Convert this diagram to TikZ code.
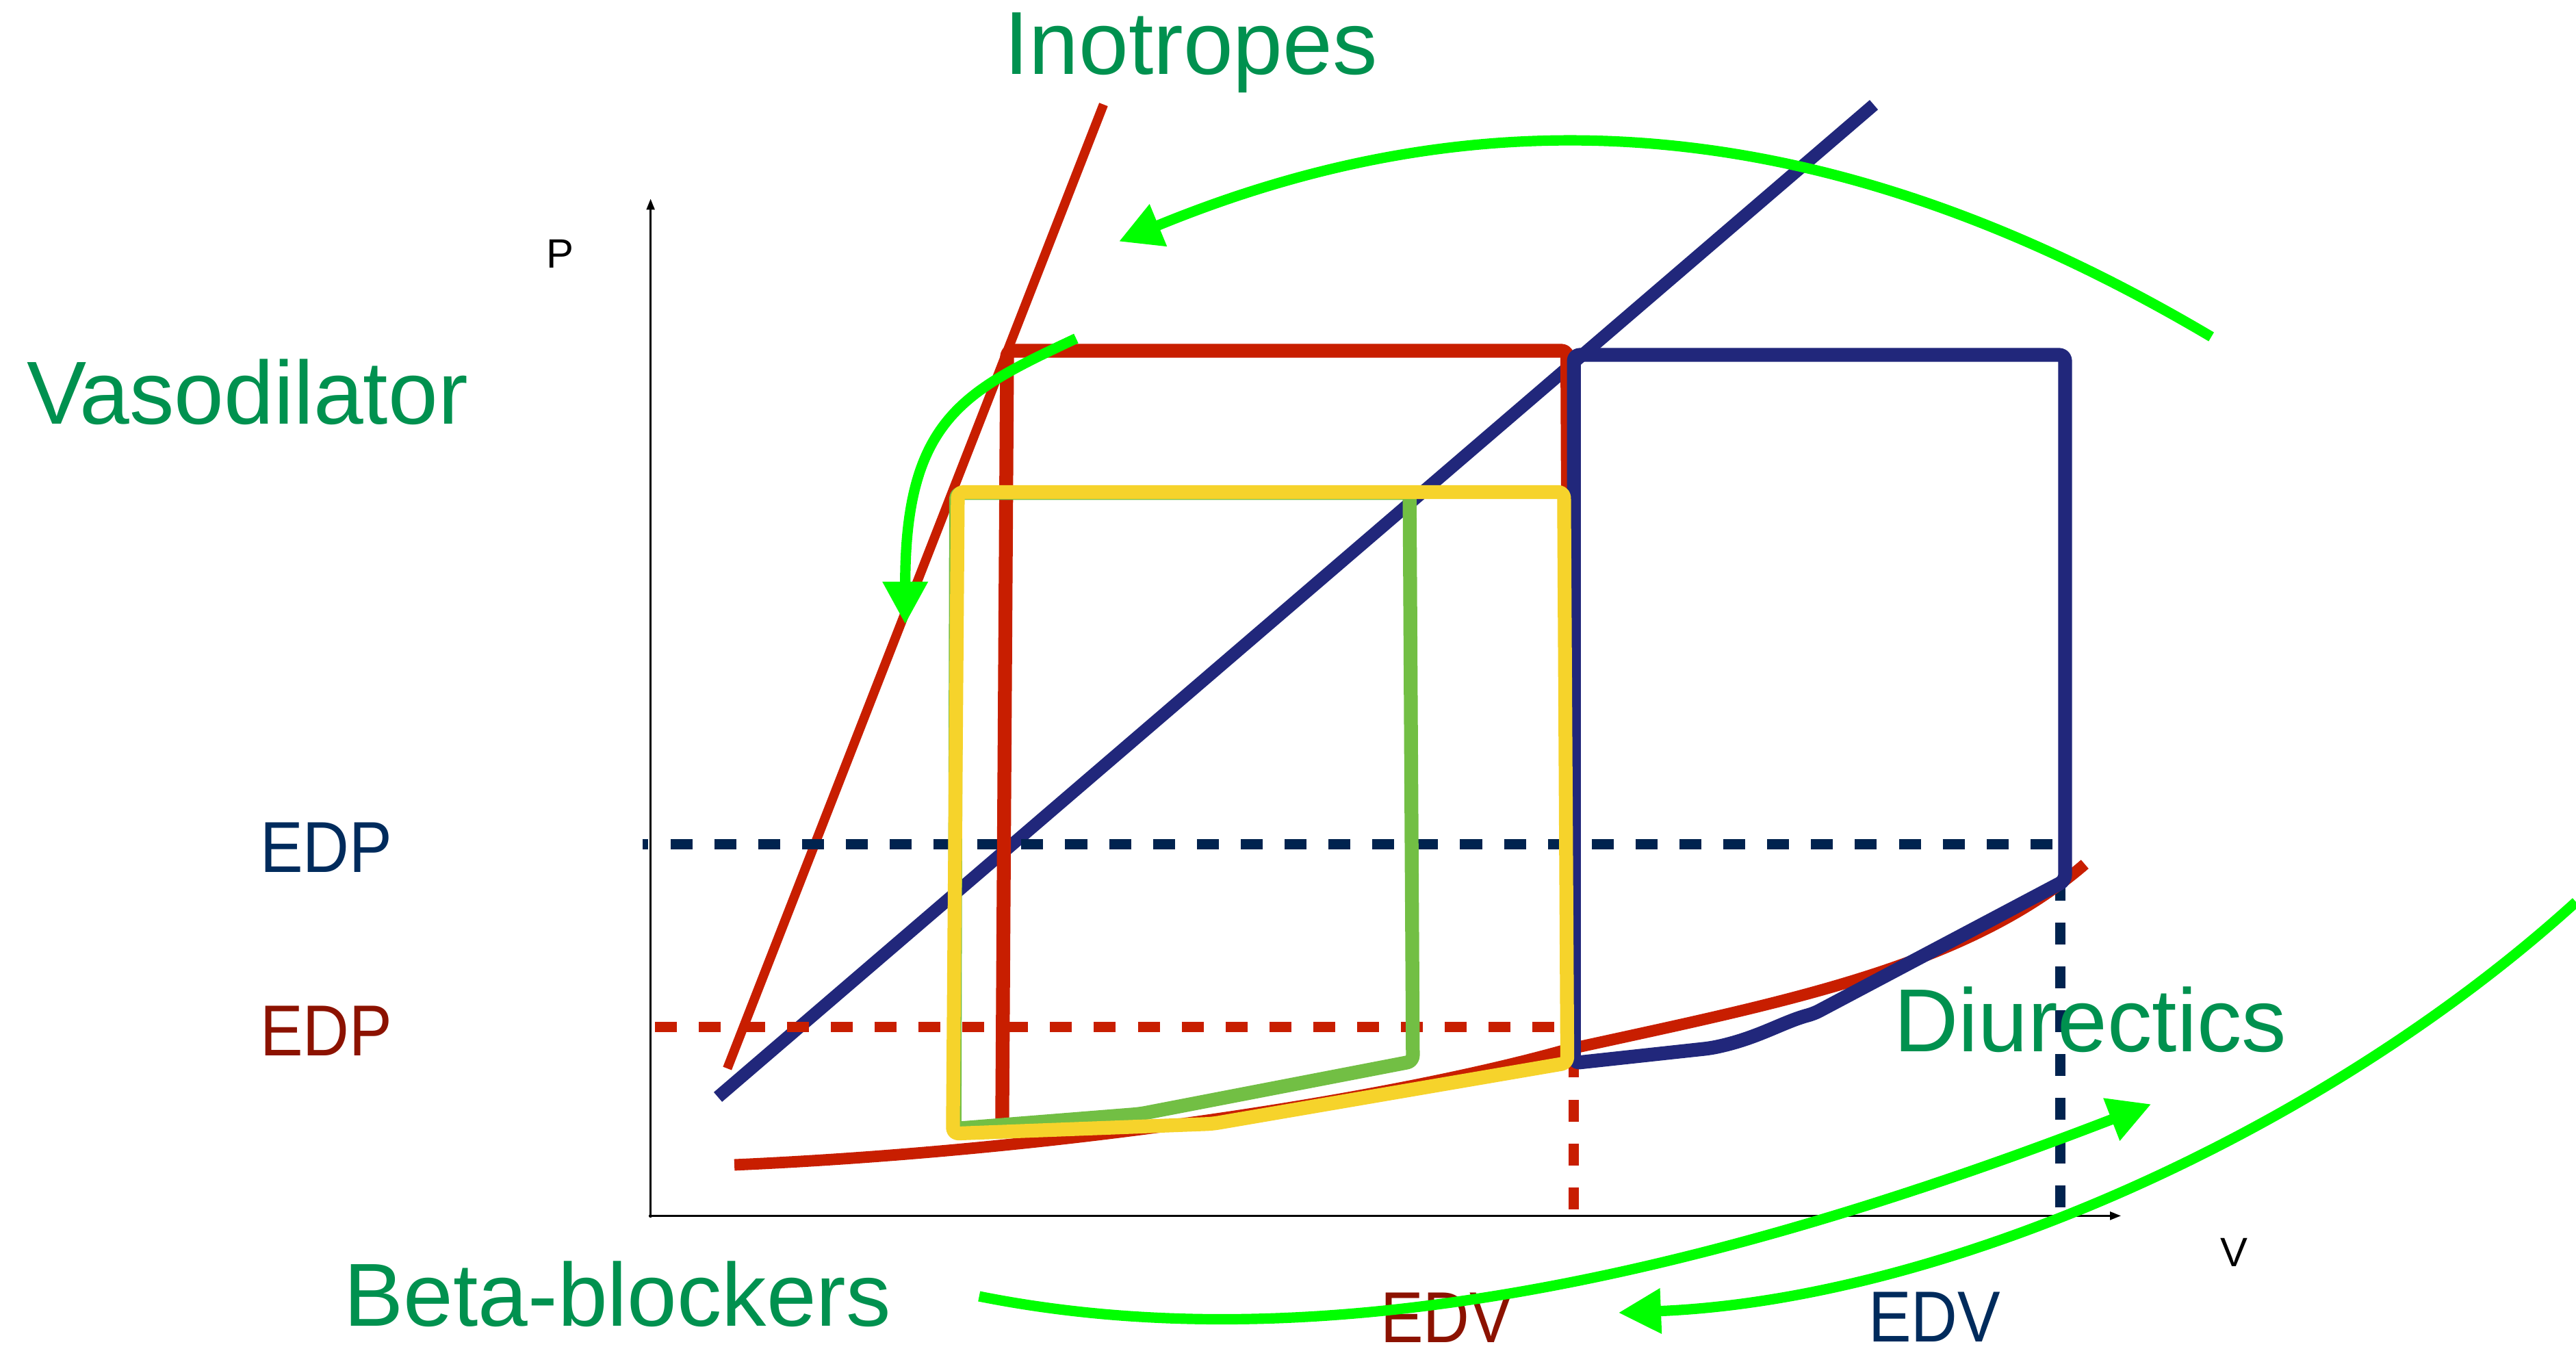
\documentclass[tikz,border=0pt]{standalone}
\usepackage{fontspec}
\setmainfont{Liberation Sans}
\usetikzlibrary{arrows.meta}

\definecolor{pvred}{HTML}{C81E00}
\definecolor{pvblue}{HTML}{21277B}
\definecolor{pvyellow}{HTML}{F6D32B}
\definecolor{pvgreen}{HTML}{72BF44}
\definecolor{drugarrow}{HTML}{00FF00}
\definecolor{druglabel}{HTML}{00914F}
\definecolor{navydash}{HTML}{00234F}
\definecolor{navytext}{HTML}{002B5C}
\definecolor{redtext}{HTML}{8C1200}

\tikzset{
  pvloop/.style={line width=4.8pt, line join=round, rounded corners=2pt},
  espvr/.style={line width=3.2pt, line cap=butt},
  edline/.style={line width=3.6pt, dash pattern=on 7.6pt off 7.6pt},
  axisline/.style={line width=0.7pt, black, -{Triangle[length=3.8pt,width=2.8pt]}},
  therapy/.style={draw=drugarrow, line width=3.6pt, -{Triangle[length=14.8pt,width=14.8pt]}},
  druglbl/.style={inner sep=0pt, anchor=base west, text=druglabel,
                  font=\fontsize{31pt}{37pt}\selectfont},
  edlbl/.style={inner sep=0pt, anchor=base west, xscale=0.89,
                font=\fontsize{25pt}{30pt}\selectfont},
  axlbl/.style={inner sep=0pt, anchor=base, font=\fontsize{14.2pt}{17pt}\selectfont}
}

\begin{document}
\begin{tikzpicture}[x=0.02cm, y=-0.02cm]
\useasboundingbox (0,0) rectangle (1568,821);

% end-systolic pressure-volume relations
\draw[espvr, pvblue, line width=4.4pt] (437,667.7) -- (1140.6,63.8);
\draw[espvr, pvred] (442.7,650.3) -- (671.7,63.6);

% end-diastolic pressure / volume markers
\draw[edline, navydash, dash phase=5.5pt] (391,514) -- (1250,514);
\draw[edline, navydash] (1254,735) -- (1254,540);
\draw[edline, pvred] (398.8,625) -- (946,625);
\draw[edline, pvred] (958,736) -- (958,645);

% end-diastolic pressure-volume relation
\draw[pvred, line width=4pt]
  (447,709) .. controls (650,700) and (850,668) .. (953,639)
            .. controls (1080,611) and (1195,590) .. (1269,526);

% pressure-volume loops
\draw[pvloop, pvred] (610,686) -- (613,213.5) -- (954,213.5) -- (956,640);
\draw[pvloop, pvblue] (958,647) -- (958,216) -- (1257,216) -- (1257,536) -- (1104,617)
  .. controls (1085,622) and (1070,632) .. (1041,638) -- cycle;
\draw[pvloop, pvgreen] (582,300) -- (858,300) -- (860,646) -- (694,678) -- (581,687) -- cycle;
\draw[pvloop, pvyellow] (583,299.5) -- (952,299.5) -- (954,647) -- (738,684) -- (580,690) -- cycle;

% axes
\coordinate (origin) at (396,741);
\coordinate (ptop) at (396,121);
\coordinate (vleft) at (395,740);
\coordinate (vend) at (1291,740);
\draw[axisline] (origin) -- (ptop);
\draw[axisline] (vleft) -- (vend);
\node[axlbl] (plabel) at (341,163) {P};
\node[axlbl] (vlabel) at (1360,771) {V};

% level labels
\node[edlbl, text=navytext] (edpblue) at (158,531) {EDP};
\node[edlbl, text=redtext] (edpred) at (158,642.6) {EDP};
\node[edlbl, text=redtext] (edvred) at (840,817) {EDV};
\node[edlbl, text=navytext] (edvblue) at (1137,816.6) {EDV};

% therapy arrows
\coordinate (inoA) at (1346,205);
\coordinate (inoB) at (681,147);
\draw[therapy] (inoA) .. controls (1108,64) and (902,56) .. (inoB);

\coordinate (vasoA) at (655,206);
\coordinate (vasoB) at (551,380);
\draw[therapy] (vasoA) .. controls (587,238) and (551,255) .. (vasoB);

\coordinate (betaA) at (596,789);
\coordinate (betaB) at (1309.5,672);
\draw[therapy] (betaA) .. controls (796,829) and (1030,780) .. (betaB);

\coordinate (diuA) at (1568,549);
\coordinate (diuB) at (985,799);
\draw[therapy] (diuA) .. controls (1415,688) and (1185,791) .. (diuB);

% therapy labels
\node[druglbl] (inotropes) at (611,45) {Inotropes};
\node[druglbl] (vasodilator) at (16,258) {Vasodilator};
\node[druglbl] (diuretics) at (1152.4,640) {Diurectics};
\node[druglbl] (betablockers) at (209,807.2) {Beta-blockers};
\end{tikzpicture}
\end{document}
